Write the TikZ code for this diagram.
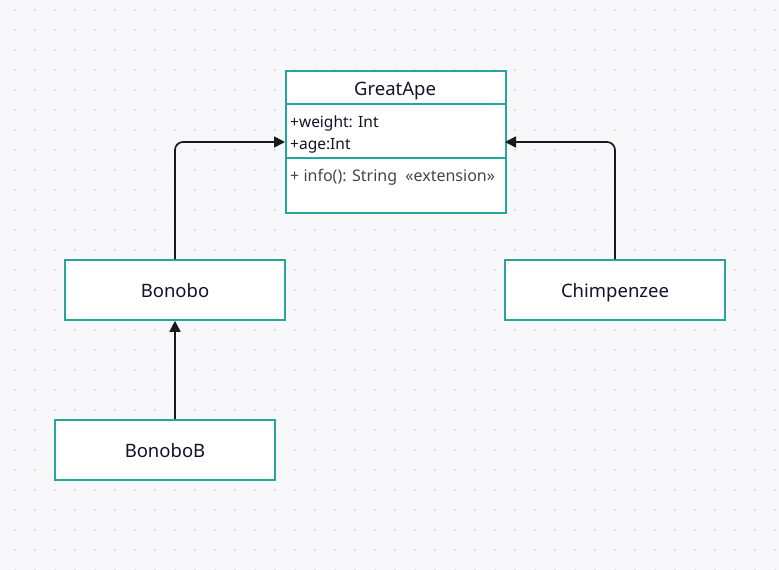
\documentclass[tikz,border=0pt]{standalone}
\usepackage{fontspec}
\setmainfont{Noto Sans}
\usetikzlibrary{arrows.meta}
\definecolor{bgc}{HTML}{F8F8FA}
\definecolor{dotc}{HTML}{D6D6DA}
\definecolor{teal}{HTML}{26A69A}
\definecolor{ink}{HTML}{131329}
\definecolor{grayink}{HTML}{444450}
\tikzset{
  cls/.style={draw=teal, line width=1.6pt, fill=white, minimum width=220pt, minimum height=60pt, inner sep=0pt, text=ink, text height=14pt, text depth=0pt, font=\fontsize{18.5}{22}\selectfont},
  attr/.style={text=ink, font=\fontsize{15.5}{18}\selectfont, anchor=base west, inner sep=0pt},
  inh/.style={draw=black!90, line width=1.7pt, -{Triangle[length=11pt,width=11pt]}, rounded corners=8pt},
}
\begin{document}
\begin{tikzpicture}[x=1pt,y=-1pt]
\useasboundingbox (0,0) rectangle (779,570);
\fill[bgc] (0,0) rectangle (779,570);
\foreach \i in {0,...,38}{\foreach \j in {0,...,28}{\fill[dotc] (15+20*\i,10+20*\j) circle (1.1pt);}}
% GreatApe
\node[draw=teal, line width=1.6pt, fill=white, minimum width=220pt, minimum height=142pt, inner sep=0pt, anchor=north west] (ga) at (285,70) {};
\draw[teal, line width=1.6pt] (285,104) -- (505,104);
\draw[teal, line width=1.6pt] (285,158) -- (505,158);
\node[text=ink, font=\fontsize{18.5}{22}\selectfont, anchor=base, inner sep=0pt] (gat) at (395,95.5) {GreatApe};
\node[attr] (a1) at (290,127.3) {+weight: Int};
\node[attr] (a2) at (290,149) {+age:Int};
\node[attr, text=grayink, font=\fontsize{16}{19}\selectfont] (m1) at (290,181.5) {+ info(): String\ \ «extension»};
\coordinate (gaL) at (285,142);
\coordinate (gaR) at (505,142);
% others
\node[cls] (bon) at (175,290) {Bonobo};
\node[cls] (bonb) at (165,450) {BonoboB};
\node[cls] (chi) at (615,290) {Chimpenzee};
% arrows
\draw[inh] (bon.north) |- (gaL);
\draw[inh] (chi.north) |- (gaR);
\draw[inh] (bonb.north -| bon.south) -- (bon.south);
\end{tikzpicture}
\end{document}
